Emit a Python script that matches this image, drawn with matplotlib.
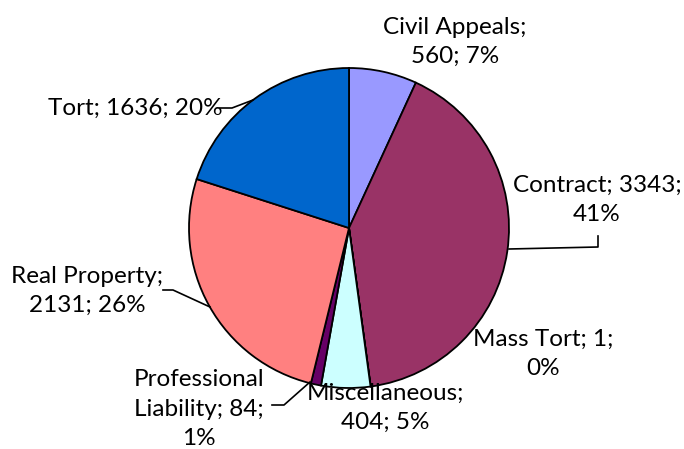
import matplotlib
matplotlib.use("Agg")
import matplotlib.pyplot as plt

# Case categories, clockwise from 12 o'clock
categories = ["Civil Appeals", "Contract", "Mass Tort", "Miscellaneous",
              "Professional Liability", "Real Property", "Tort"]
counts = [560, 3343, 1, 404, 84, 2131, 1636]
colors = ["#9999FF", "#993366", "#FFFFCC", "#CCFFFF", "#660066", "#FF8080", "#0066CC"]

W, H = 684, 449
fig = plt.figure(figsize=(W / 100, H / 100), dpi=100)

# pie centre (349, 228) px from top-left, radius 160 px
cx, cy, r = 349, 228, 160
ax = fig.add_axes([(cx - r) / W, (H - cy - r) / H, 2 * r / W, 2 * r / H])
ax.pie(counts, colors=colors, startangle=90, counterclock=False, radius=1,
       wedgeprops=dict(edgecolor="black", linewidth=1.3))
ax.set_xlim(-1, 1)
ax.set_ylim(-1, 1)
ax.axis("off")

total = sum(counts)
texts = [
    "Civil Appeals;\n{}; {}%",
    "Contract; {};\n{}%",
    "Mass Tort; {};\n{}%",
    "Miscellaneous;\n{}; {}%",
    "Professional\nLiability; {};\n{}%",
    "Real Property;\n{}; {}%",
    "Tort; {}; {}%",
]
# label centres in pixels (from top-left)
label_pos = [(455, 42), (597, 200), (543, 354), (385, 408), (199, 409), (87, 291), (135, 108)]
leaders = [
    None,
    [(509, 249), (598, 247), (598, 236)],
    None,
    None,
    [(310, 382), (284, 405), (272, 405)],
    [(163, 290), (173, 290), (210, 307)],
    [(220, 108), (232, 108), (253, 100)],
]

for name, n, t, (lx, ly), lead in zip(categories, counts, texts, label_pos, leaders):
    pct = round(100 * n / total)
    fig.text(lx / W, 1 - ly / H, t.format(n, pct), ha="center", va="center",
             fontsize=17.5, family=["Lato", "DejaVu Sans"], linespacing=1.5)
    if lead:
        xs = [p[0] / W for p in lead]
        ys = [1 - p[1] / H for p in lead]
        fig.add_artist(plt.Line2D(xs, ys, color="black", linewidth=1.2,
                                  transform=fig.transFigure))

fig.savefig("out.png", dpi=100)
